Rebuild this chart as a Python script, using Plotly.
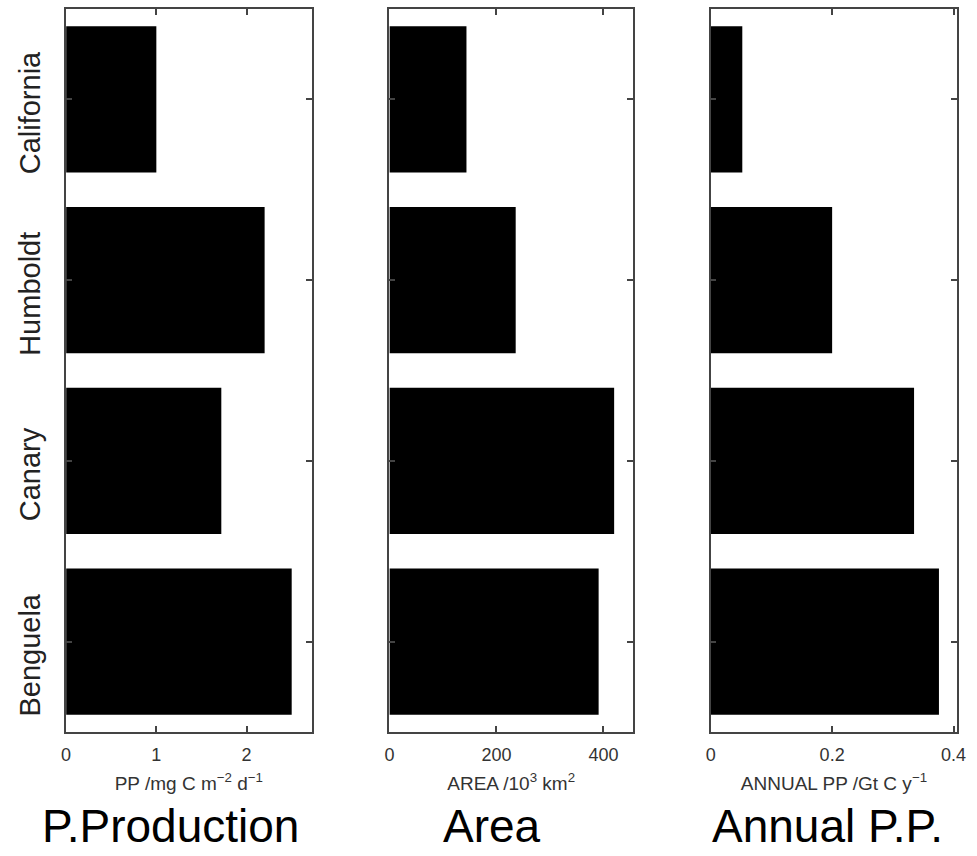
import plotly.graph_objects as go

regions = ["California", "Humboldt", "Canary", "Benguela"]
pp_daily = [1.0, 2.2, 1.72, 2.5]          # mg C m-2 d-1
area = [144, 236, 420, 391]               # 10^3 km2
annual_pp = [0.052, 0.2, 0.335, 0.376]    # Gt C y-1

panel_titles = ["P.Production", "Area", "Annual P.P."]
axis_titles = ["PP /mg C m<sup>−2</sup> d<sup>−1</sup>",
               "AREA /10<sup>3</sup> km<sup>2</sup>",
               "ANNUAL PP /Gt C y<sup>−1</sup>"]
x_ranges = [[0, 2.72], [0, 455], [0, 0.406]]
x_ticks = [[0, 1, 2], [0, 200, 400], [0, 0.2, 0.4]]
x_ticktext = [["0", "1", "2"], ["0", "200", "400"], ["0", "0.2", "0.4"]]
series = [pp_daily, area, annual_pp]

W, H = 977, 856
x_domains = [[62 / W, 311 / W], [390 / W, 637 / W], [716 / W, 966 / W]]
title_x = [168 / W, 494 / W, 834 / W]
y_domain = [1 - 732 / H, 1 - 9 / H]
cat_order = regions[::-1]

fig = go.Figure()
font_small = dict(family="Liberation Sans, Arial, sans-serif", size=18, color="#333")
font_title = dict(family="Liberation Sans, Arial, sans-serif", size=19, color="#333")

for i in range(3):
    xa = "x" if i == 0 else f"x{i+1}"
    ya = "y" if i == 0 else f"y{i+1}"
    fig.add_trace(go.Bar(
        x=series[i], y=regions, orientation="h",
        marker=dict(color="black", line=dict(width=0)),
        width=0.81, xaxis=xa, yaxis=ya, showlegend=False,
    ))
    xkey = "xaxis" if i == 0 else f"xaxis{i+1}"
    ykey = "yaxis" if i == 0 else f"yaxis{i+1}"
    fig.update_layout(**{
        xkey: dict(
            domain=x_domains[i], anchor=ya, range=x_ranges[i],
            tickvals=x_ticks[i], ticktext=x_ticktext[i],
            ticks="inside", ticklen=6, tickcolor="#444", tickwidth=1.5,
            showline=True, linecolor="#444", linewidth=1.5, mirror="ticks",
            showgrid=False, zeroline=False, tickfont=font_small,
            ticklabelstandoff=6,
            title=dict(text=axis_titles[i], font=font_title, standoff=12),
        ),
        ykey: dict(
            domain=y_domain, anchor=xa, type="category",
            categoryorder="array", categoryarray=cat_order,
            range=[-0.5, 3.5],
            ticks="inside", ticklen=6, tickcolor="#444", tickwidth=1.5,
            showline=True, linecolor="#444", linewidth=1.5, mirror="ticks",
            showgrid=False, zeroline=False,
            showticklabels=(i == 0), tickangle=-90,
            ticklabelstandoff=13, ticklabelshift=18,
            tickfont=dict(family="Liberation Sans, Arial, sans-serif", size=29, color="#222"),
        ),
    })
    fig.add_annotation(
        text=panel_titles[i], xref="paper", yref="paper",
        x=title_x[i], y=1 - 826 / H,
        xanchor="center", yanchor="middle", showarrow=False,
        font=dict(family="Liberation Sans, Arial, sans-serif", size=46, color="black"),
    )

fig.update_layout(
    width=W, height=H, margin=dict(l=0, r=0, t=0, b=0),
    paper_bgcolor="white", plot_bgcolor="white", bargap=0.19,
)
fig.write_html("out.html")
